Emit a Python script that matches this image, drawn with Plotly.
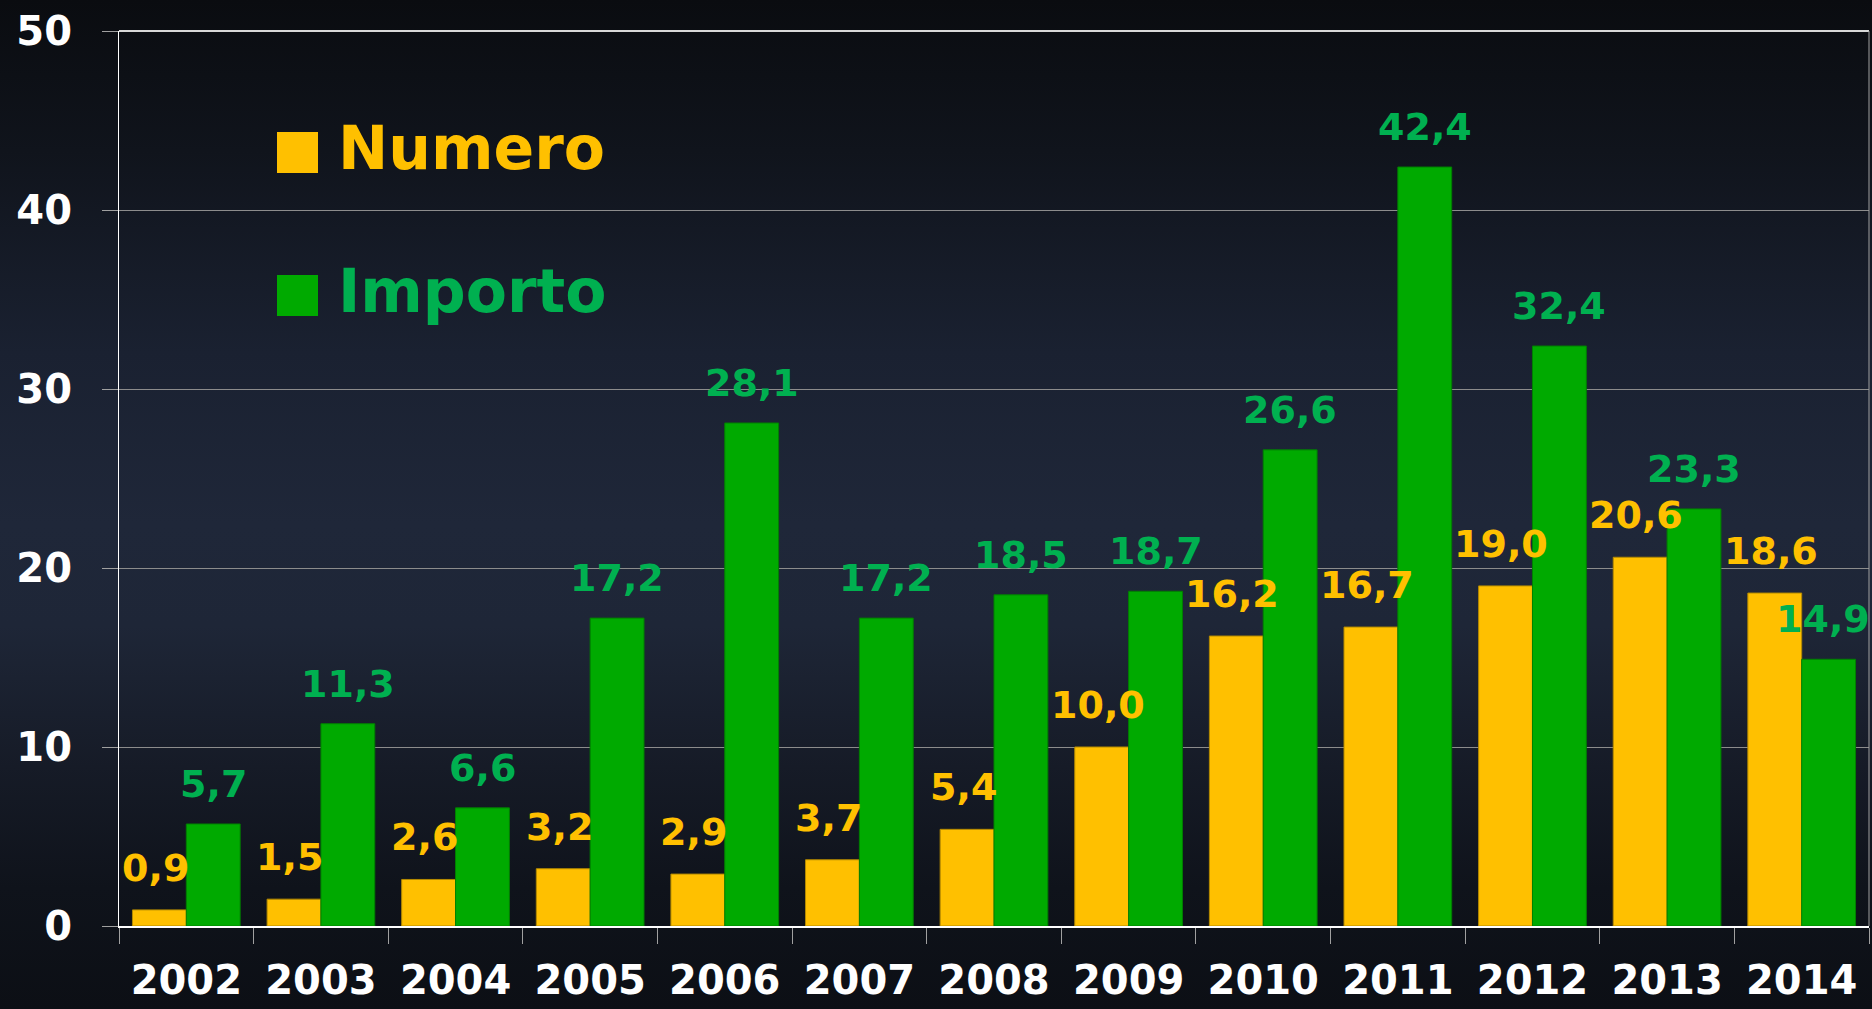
import base64
import plotly.graph_objects as go

# ---- data ----
years = ["2002", "2003", "2004", "2005", "2006", "2007", "2008",
         "2009", "2010", "2011", "2012", "2013", "2014"]
numero = [0.9, 1.5, 2.6, 3.2, 2.9, 3.7, 5.4, 10.0, 16.2, 16.7, 19.0, 20.6, 18.6]
importo = [5.7, 11.3, 6.6, 17.2, 28.1, 17.2, 18.5, 18.7, 26.6, 42.4, 32.4, 23.3, 14.9]
series_names = ["Numero", "Importo"]
y_ticks = [0, 10, 20, 30, 40, 50]

# ---- style ----
W, H = 1872, 1009
ML, MR, MT, MB = 119, 3, 31, 83
PW, PH = W - ML - MR, H - MT - MB
ORANGE = "#FFC000"
GREEN_BAR = "#00AA00"
GREEN_TXT = "#00B050"
FONT = "DejaVu Sans"


def fmt(v):
    return f"{v:.1f}".replace(".", ",")


def px_x(p):
    return (p - ML) / PW


def px_y(p):
    return (H - MB - p) / PH


svg = (
    '<svg xmlns="http://www.w3.org/2000/svg" width="100" height="100" preserveAspectRatio="none">'
    '<defs><linearGradient id="g" x1="0" y1="0" x2="0" y2="1">'
    '<stop offset="0" stop-color="#0A0C10"/>'
    '<stop offset="0.15" stop-color="#10141C"/>'
    '<stop offset="0.35" stop-color="#1A2131"/>'
    '<stop offset="0.52" stop-color="#1F2739"/>'
    '<stop offset="0.62" stop-color="#1E2637"/>'
    '<stop offset="0.76" stop-color="#161B27"/>'
    '<stop offset="0.88" stop-color="#0F131B"/>'
    '<stop offset="1" stop-color="#0C0F15"/>'
    '</linearGradient></defs>'
    '<rect x="0" y="0" width="100" height="100" fill="url(#g)"/></svg>'
)
bg_uri = "data:image/svg+xml;base64," + base64.b64encode(svg.encode()).decode()

fig = go.Figure()
fig.add_trace(go.Bar(x=years, y=numero, name=series_names[0],
                     marker=dict(color=ORANGE, line=dict(color="#B48A00", width=1))))
fig.add_trace(go.Bar(x=years, y=importo, name=series_names[1],
                     marker=dict(color=GREEN_BAR, line=dict(color="#008000", width=1))))

annotations = []
last = len(years) - 1
for i, v in enumerate(numero):
    annotations.append(dict(x=i, y=v, xref="x", yref="y", text=fmt(v), showarrow=False,
                            xshift=-31, yshift=42, yanchor="middle", xanchor="center",
                            font=dict(family=FONT, size=38, color=ORANGE, weight="bold")))
for i, v in enumerate(importo):
    annotations.append(dict(x=i, y=v, xref="x", yref="y", text=fmt(v), showarrow=False,
                            xshift=27 if i < last else 21, yshift=40,
                            yanchor="middle", xanchor="center",
                            font=dict(family=FONT, size=38, color=GREEN_TXT, weight="bold")))

# legend (drawn manually)
legend_rows = [(series_names[0], ORANGE, ORANGE, 152), (series_names[1], GREEN_BAR, GREEN_TXT, 295)]
shapes = []
for name, sq_col, txt_col, cy in legend_rows:
    shapes.append(dict(type="rect", xref="paper", yref="paper",
                       x0=px_x(277), x1=px_x(318), y0=px_y(cy - 20), y1=px_y(cy + 21),
                       fillcolor=sq_col, line=dict(width=0), layer="above"))
    annotations.append(dict(x=px_x(336), y=px_y(cy - 4), xref="paper", yref="paper", text=name,
                            showarrow=False, xanchor="left", yanchor="middle",
                            font=dict(family=FONT, size=60, color=txt_col, weight="bold")))

fig.update_layout(
    width=W, height=H, autosize=False,
    margin=dict(l=ML, r=MR, t=MT, b=MB, pad=0, autoexpand=False),
    paper_bgcolor="#141924", plot_bgcolor="rgba(0,0,0,0)",
    showlegend=False,
    barmode="group", bargap=0.2, bargroupgap=0,
    annotations=annotations, shapes=shapes,
    images=[dict(source=bg_uri, xref="paper", yref="paper",
                 x=px_x(0), y=px_y(0), sizex=W / PW, sizey=H / PH,
                 xanchor="left", yanchor="top", sizing="stretch", layer="below")],
    xaxis=dict(type="category", range=[-0.5, len(years) - 0.5], showline=True,
               linecolor="#FFFFFF", linewidth=2, automargin=False, tickangle=0,
               mirror=False, ticks="outside", tickson="boundaries", ticklen=16,
               tickcolor="#A0A0A0", tickwidth=1, showgrid=False,
               tickfont=dict(family=FONT, size=40, color="#FFFFFF", weight="bold"),
               ticklabelstandoff=18),
    yaxis=dict(range=[0, 50], tickvals=y_ticks, showline=True, linecolor="#FFFFFF",
               linewidth=1, ticks="outside", ticklen=16, tickcolor="#A0A0A0", tickwidth=1,
               showgrid=True, gridcolor="#8C8C8C", gridwidth=1, zeroline=False,
               automargin=False,
               tickfont=dict(family=FONT, size=40, color="#FFFFFF", weight="bold"),
               ticklabelstandoff=22),
)
# plot frame lines
fig.add_shape(type="line", xref="paper", yref="paper", x0=0, x1=1, y0=1, y1=1,
              line=dict(color="#D8D8D8", width=2), layer="above")
fig.add_shape(type="line", xref="paper", yref="paper", x0=1, x1=1, y0=0, y1=1,
              line=dict(color="#A0A0A0", width=1), layer="above")

fig.write_html("out.html", config={"displayModeBar": False},
               post_script="document.body.style.margin='0';document.body.style.overflow='hidden';")
